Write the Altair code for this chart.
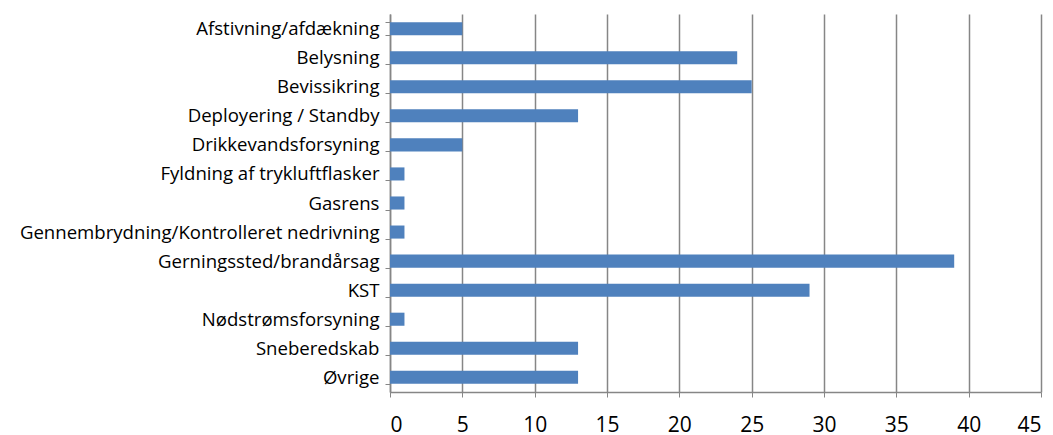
import altair as alt
import pandas as pd

categories = [
    "Afstivning/afdækning",
    "Belysning",
    "Bevissikring",
    "Deployering / Standby",
    "Drikkevandsforsyning",
    "Fyldning af trykluftflasker",
    "Gasrens",
    "Gennembrydning/Kontrolleret nedrivning",
    "Gerningssted/brandårsag",
    "KST",
    "Nødstrømsforsyning",
    "Sneberedskab",
    "Øvrige",
]
values = [5, 24, 25, 13, 5, 1, 1, 1, 39, 29, 1, 13, 13]
x_ticks = [0, 5, 10, 15, 20, 25, 30, 35, 40, 45]

df = pd.DataFrame({"cat": categories, "val": values})

chart = alt.Chart(df).mark_bar(color="#4F81BD").encode(
    x=alt.X(
        "val:Q",
        scale=alt.Scale(domain=[0, 45], nice=False),
        axis=alt.Axis(
            values=x_ticks,
            title=None,
            grid=True,
            gridColor="#868686",
            gridWidth=1.5,
            domainColor="#868686",
            domainWidth=1.5,
            tickColor="#868686",
            tickSize=5,
            labelFontSize=21,
            labelFont="Open Sans",
            labelColor="#000000",
            labelPadding=17,
        ),
    ),
    y=alt.Y(
        "cat:N",
        sort=categories,
        scale=alt.Scale(paddingInner=0.55, paddingOuter=0.28),
        axis=alt.Axis(
            title=None,
            tickBand="extent",
            domainColor="#868686",
            domainWidth=1.5,
            tickColor="#868686",
            tickSize=5,
            labelFontSize=18.6,
            labelFont="Open Sans",
            labelColor="#000000",
            labelPadding=6,
            labelLimit=400,
        ),
    ),
).properties(
    width=651,
    height=378,
    autosize=alt.AutoSizeParams(type="none"),
    padding={"left": 382, "top": 6, "right": 4, "bottom": 42},
).configure_view(stroke=None)

chart.save("out.html", embed_options={"renderer": "svg", "actions": False})
